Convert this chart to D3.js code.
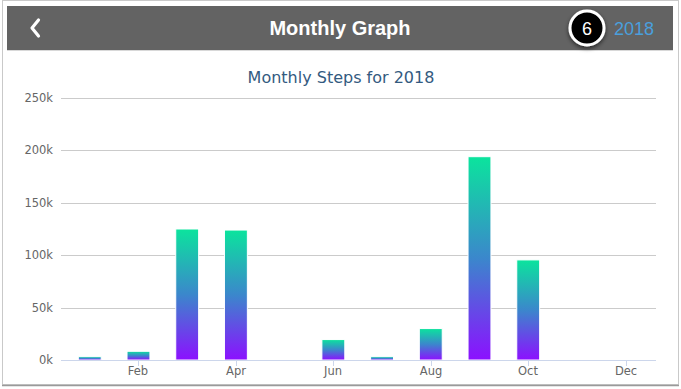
<!DOCTYPE html>
<html>
<head>
<meta charset="utf-8">
<script src="https://cdn.jsdelivr.net/npm/d3@7"></script>
<style>
  body { margin: 0; background: #fff; }
  svg { display: block; }
</style>
</head>
<body>
<svg id="chart"></svg>
<script>
// monthly steps
var months = ["Jan", "Feb", "Mar", "Apr", "May", "Jun", "Jul", "Aug", "Sep", "Oct", "Nov", "Dec"];
var steps = [3200, 8300, 125000, 124000, 0, 19500, 3200, 30000, 194000, 95500, 0, 0];
var yTicks = [0, 50000, 100000, 150000, 200000, 250000];
var shownMonths = ["Feb", "Apr", "Jun", "Aug", "Oct", "Dec"];

var width = 681, height = 389;

var data = months.map(function(m, i) { return { month: m, value: steps[i] }; });

var svg = d3.select("#chart")
    .attr("width", width)
    .attr("height", height);

var defs = svg.append("defs");

// bar gradient, green at the top to purple at the bottom of each bar
var grad = defs.append("linearGradient")
    .attr("id", "barGrad")
    .attr("x1", 0).attr("y1", 0).attr("x2", 0).attr("y2", 1);
grad.append("stop").attr("offset", "0%").attr("stop-color", "#0be49d");
grad.append("stop").attr("offset", "50%").attr("stop-color", "#3b87cc");
grad.append("stop").attr("offset", "100%").attr("stop-color", "#8c10ff");

var shadow = defs.append("filter").attr("id", "shadow")
    .attr("x", "-50%").attr("y", "-50%").attr("width", "200%").attr("height", "200%");
shadow.append("feDropShadow")
    .attr("dx", 0).attr("dy", 2).attr("stdDeviation", 2)
    .attr("flood-color", "#000").attr("flood-opacity", 0.6);

// outer screenshot frame
svg.append("rect")
    .attr("x", 2.5).attr("y", 0.5)
    .attr("width", 676).attr("height", 384)
    .attr("fill", "#fff")
    .attr("stroke", "#c9c9c9");
svg.append("line")
    .attr("x1", 2).attr("x2", 679)
    .attr("y1", 385.5).attr("y2", 385.5)
    .attr("stroke", "#9a9a9a").attr("stroke-width", 1.5);

// header bar
svg.append("rect")
    .attr("x", 7).attr("y", 6)
    .attr("width", 666).attr("height", 44)
    .attr("fill", "#636363");
svg.append("line")
    .attr("x1", 7).attr("x2", 673)
    .attr("y1", 50.5).attr("y2", 50.5)
    .attr("stroke", "#d8d8d8");

svg.append("path")
    .attr("d", "M38.5,20 L32,28 L38.5,36")
    .attr("fill", "none")
    .attr("stroke", "#fff")
    .attr("stroke-width", 3.2)
    .attr("stroke-linecap", "round")
    .attr("stroke-linejoin", "round");

svg.append("text")
    .attr("x", 340).attr("y", 35)
    .attr("text-anchor", "middle")
    .attr("font-family", "Liberation Sans, Arial, sans-serif")
    .attr("font-weight", "bold")
    .attr("font-size", 20)
    .attr("fill", "#fff")
    .text("Monthly Graph");

svg.append("circle")
    .attr("cx", 587).attr("cy", 28).attr("r", 17)
    .attr("fill", "#000")
    .attr("stroke", "#fff")
    .attr("stroke-width", 3)
    .attr("filter", "url(#shadow)");
svg.append("text")
    .attr("x", 587).attr("y", 34.5)
    .attr("text-anchor", "middle")
    .attr("font-family", "Liberation Sans, Arial, sans-serif")
    .attr("font-size", 18)
    .attr("fill", "#fff")
    .text("6");

svg.append("text")
    .attr("x", 614).attr("y", 34.5)
    .attr("font-family", "Liberation Sans, Arial, sans-serif")
    .attr("font-size", 18)
    .attr("fill", "#4a9fdc")
    .text("2018");

// chart title
svg.append("text")
    .attr("x", 341).attr("y", 83)
    .attr("text-anchor", "middle")
    .attr("font-family", "DejaVu Sans, Verdana, sans-serif")
    .attr("font-size", 16)
    .attr("fill", "#335a80")
    .text("Monthly Steps for 2018");

// scales
var x = d3.scaleBand()
    .domain(months)
    .range([65.4, 650])
    .paddingInner(0.53)
    .paddingOuter(0.265);

var y = d3.scaleLinear()
    .domain([0, 250000])
    .range([360, 98]);

// gridlines
svg.append("g")
    .selectAll("line")
    .data(yTicks.filter(function(d) { return d > 0; }))
    .enter()
    .append("line")
    .attr("x1", 61).attr("x2", 656)
    .attr("y1", function(d) { return Math.round(y(d)) + 0.5; })
    .attr("y2", function(d) { return Math.round(y(d)) + 0.5; })
    .attr("stroke", "#cbcbcb");

// y labels
svg.append("g")
    .selectAll("text")
    .data(yTicks)
    .enter()
    .append("text")
    .attr("x", 53)
    .attr("y", function(d) { return y(d) + 4; })
    .attr("text-anchor", "end")
    .attr("font-family", "DejaVu Sans, Verdana, sans-serif")
    .attr("font-size", 11.5)
    .attr("fill", "#666")
    .text(function(d) { return (d / 1000) + "k"; });

// bars
svg.append("g")
    .selectAll("rect")
    .data(data.filter(function(d) { return d.value > 0; }))
    .enter()
    .append("rect")
    .attr("x", function(d) { return x(d.month); })
    .attr("y", function(d) { return y(d.value); })
    .attr("width", x.bandwidth())
    .attr("height", function(d) { return y(0) - y(d.value); })
    .attr("fill", "url(#barGrad)")
    .attr("stroke", "#fff")
    .attr("stroke-width", 1);

// x axis line, ticks and labels
svg.append("line")
    .attr("x1", 61).attr("x2", 656)
    .attr("y1", 360.5).attr("y2", 360.5)
    .attr("stroke", "#ccd6eb");

var xt = svg.append("g")
    .selectAll("g")
    .data(shownMonths)
    .enter()
    .append("g")
    .attr("transform", function(d) {
        return "translate(" + Math.round(x(d) + x.bandwidth() / 2) + ",0)";
    });
xt.append("line")
    .attr("x1", 0.5).attr("x2", 0.5)
    .attr("y1", 360).attr("y2", 366)
    .attr("stroke", "#ccd6eb");
xt.append("text")
    .attr("y", 375)
    .attr("text-anchor", "middle")
    .attr("font-family", "DejaVu Sans, Verdana, sans-serif")
    .attr("font-size", 11.5)
    .attr("fill", "#666")
    .text(function(d) { return d; });
</script>
</body>
</html>
